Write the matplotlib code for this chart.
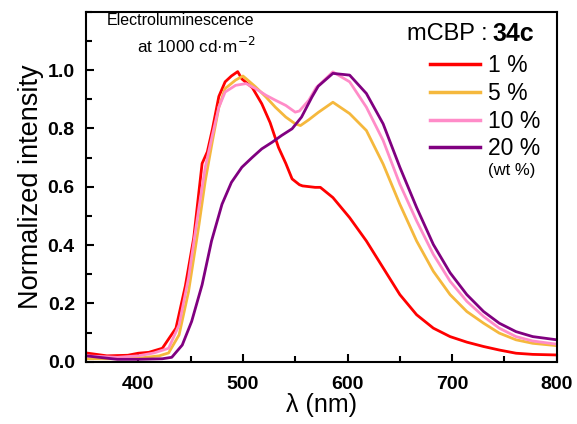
import matplotlib
matplotlib.use("Agg")
import matplotlib.pyplot as plt
from matplotlib.ticker import MultipleLocator

plt.rcParams['font.family'] = ['Liberation Sans', 'DejaVu Sans']

# ---- data ----
wl_1 = [350, 370, 390, 400, 410, 423, 436, 445, 453, 461, 466, 471, 477, 483, 489, 495, 499, 509, 518, 526,
        534, 541, 547, 554, 557, 569, 574, 586, 602, 618, 634, 650, 666, 682, 698, 714, 730, 745, 761, 777, 800]
int_1 = [0.03, 0.02, 0.022, 0.029, 0.032, 0.046, 0.115, 0.26, 0.425, 0.68, 0.72, 0.80, 0.91, 0.96, 0.98, 0.995,
         0.97, 0.94, 0.885, 0.82, 0.735, 0.68, 0.627, 0.607, 0.603, 0.598, 0.598, 0.563, 0.494, 0.414, 0.322,
         0.23, 0.161, 0.115, 0.086, 0.067, 0.052, 0.04, 0.029, 0.025, 0.023]

wl_5 = [350, 380, 400, 420, 429, 439, 448, 458, 464, 471, 477, 483, 493, 500, 503, 512, 522, 531, 541, 550,
        555, 563, 572, 586, 602, 618, 634, 650, 666, 682, 698, 714, 730, 745, 761, 777, 800]
int_5 = [0.01, 0.01, 0.012, 0.02, 0.03, 0.092, 0.24, 0.47, 0.62, 0.76, 0.873, 0.937, 0.966, 0.98, 0.971,
         0.943, 0.908, 0.873, 0.839, 0.816, 0.81, 0.83, 0.855, 0.89, 0.851, 0.793, 0.678, 0.54, 0.414, 0.31,
         0.23, 0.172, 0.132, 0.098, 0.075, 0.063, 0.055]

wl_10 = [350, 380, 400, 415, 429, 439, 448, 458, 464, 471, 477, 483, 493, 503, 512, 522, 531, 541, 550, 554,
         563, 570, 586, 602, 618, 634, 650, 666, 682, 698, 714, 730, 745, 761, 777, 800]
int_10 = [0.02, 0.015, 0.02, 0.03, 0.046, 0.126, 0.287, 0.529, 0.667, 0.78, 0.873, 0.925, 0.948, 0.954, 0.937,
          0.914, 0.897, 0.879, 0.856, 0.86, 0.897, 0.94, 0.994, 0.96, 0.873, 0.759, 0.609, 0.483, 0.368, 0.276,
          0.207, 0.155, 0.115, 0.086, 0.071, 0.06]

wl_20 = [350, 380, 400, 423, 432, 442, 451, 461, 470, 480, 489, 499, 509, 518, 528, 537, 547, 556, 566, 572,
         586, 602, 618, 634, 650, 666, 682, 698, 714, 730, 745, 761, 777, 800]
int_20 = [0.02, 0.008, 0.008, 0.01, 0.015, 0.057, 0.138, 0.264, 0.414, 0.54, 0.615, 0.667, 0.701, 0.73, 0.753,
          0.776, 0.799, 0.839, 0.908, 0.945, 0.989, 0.983, 0.92, 0.816, 0.667, 0.529, 0.402, 0.305, 0.23, 0.172,
          0.132, 0.103, 0.086, 0.075]

labels = ["1 %", "5 %", "10 %", "20 %"]
colors = ["#FF0000", "#F5B83D", "#FF8CC8", "#800080"]
xticks = [400, 500, 600, 700, 800]
yticks = [0.0, 0.2, 0.4, 0.6, 0.8, 1.0]
ytick_labels = ["0.0", "0.2", "0.4", "0.6", "0.8", "1.0"]

series = [(wl_1, int_1), (wl_5, int_5), (wl_10, int_10), (wl_20, int_20)]

fig = plt.figure(figsize=(5.77, 4.24), dpi=100)
ax = fig.add_axes([0.149, 0.147, 0.816, 0.825])

for (x, y), lab, c in zip(series, labels, colors):
    ax.plot(x, y, color=c, lw=2.0, label=lab)

ax.set_xlim(350, 800)
ax.set_ylim(0, 1.2)
ax.set_xticks(xticks)
ax.set_xticklabels([str(t) for t in xticks], fontweight='bold', fontsize=14)
ax.xaxis.set_minor_locator(MultipleLocator(50))
ax.set_yticks(yticks)
ax.set_yticklabels(ytick_labels, fontweight='bold', fontsize=14)
ax.yaxis.set_minor_locator(MultipleLocator(0.1))
ax.tick_params(which='both', direction='in', top=False, right=False, width=1.5)
ax.tick_params(which='major', length=6)
ax.tick_params(which='minor', length=4)
ax.tick_params(axis='x', which='major', pad=10)
ax.tick_params(axis='y', which='major', pad=8)
for s in ax.spines.values():
    s.set_linewidth(1.5)

ax.set_xlabel("λ (nm)", fontsize=18, labelpad=0)
ax.set_ylabel("Normalized intensity", fontsize=19.5, labelpad=3)

ax.text(0.20, 0.974, "Electroluminescence", transform=ax.transAxes, ha='center', va='center', fontsize=11.5)
ax.text(0.235, 0.903, "at 1000 cd·m$^{-2}$", transform=ax.transAxes, ha='center', va='center', fontsize=12.3)

ax.text(0.8535, 0.936, "mCBP :", transform=ax.transAxes, ha='right', va='center', fontsize=17)
ax.text(0.864, 0.936, "34c", transform=ax.transAxes, ha='left', va='center', fontsize=18, fontweight='bold')

leg = ax.legend(loc='upper left', bbox_to_anchor=(0.730, 0.8785), frameon=False, fontsize=16.5,
                handlelength=2.2, handletextpad=0.36, labelspacing=0.2, borderaxespad=0, borderpad=0)
for line in leg.get_lines():
    line.set_linewidth(2.5)
ax.text(0.905, 0.546, "(wt %)", transform=ax.transAxes, ha='center', va='center', fontsize=12)

fig.savefig("out.png", dpi=100)
